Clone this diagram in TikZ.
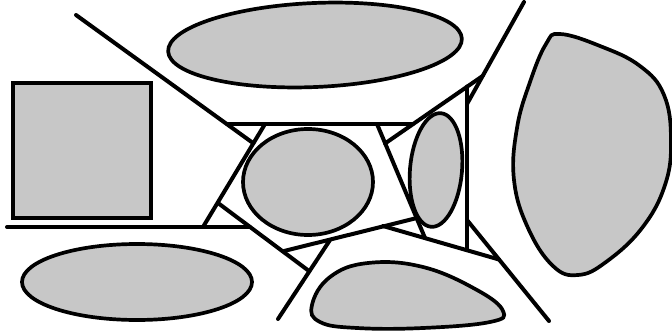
\documentclass[tikz,border=0pt]{standalone}
\begin{document}
\begin{tikzpicture}[x=1pt,y=-1pt,
  blob/.style={draw=black,line width=3.7pt,fill=black!22},
  edge/.style={draw=black,line width=4pt,line cap=round,line join=round}]
\useasboundingbox (0,0) rectangle (672,332);
% shapes
\draw[blob] (13,83) rectangle (151,218);
\draw[blob,rotate around={2.5:(315,45)}] (315,45) ellipse [x radius=147,y radius=42];
\draw[blob] (308,182) ellipse [x radius=65,y radius=53];
\draw[blob,rotate around={-5:(436,170)}] (436,170) ellipse [x radius=26,y radius=57];
\draw[blob] (137,282) ellipse [x radius=115,y radius=38];
\draw[blob] plot[smooth cycle,tension=0.7] coordinates {
  (560,34) (600,46) (640,66) (664,95) (671,140) (665,185) (642,228)
  (606,262) (578,275) (553,266) (528,228) (514,180) (517,128) (530,82) (546,44)};
\draw[blob] plot[smooth cycle,tension=0.7] coordinates {
  (312,305) (330,277) (368,263) (423,267) (477,290) (503,311) (490,322)
  (423,328) (357,328) (320,322)};
% connector points
\coordinate (A) at (76,15);
\coordinate (D) at (253.4,143.3);
\coordinate (P1) at (227,124);
\coordinate (P2) at (413,124);
\coordinate (L1) at (265,124);
\coordinate (L2) at (203,227);
\coordinate (H1) at (7,227);
\coordinate (H2) at (250,227);
\coordinate (F1) at (218,203);
\coordinate (F2) at (309,271);
\coordinate (S1) at (278,319);
\coordinate (S2) at (330,240);
\coordinate (B1) at (284,251);
\coordinate (B2) at (417,218);
\coordinate (R1) at (377,124);
\coordinate (R2) at (425,238);
\coordinate (M1) at (383,226);
\coordinate (M2) at (499,259.5);
\coordinate (V1) at (467,86.5);
\coordinate (V2) at (467,250);
\coordinate (T1) at (524,2);
\coordinate (T2) at (467,104);
\coordinate (G1) at (482.6,76);
\coordinate (G2) at (385,143.5);
\coordinate (K1) at (467,220);
\coordinate (K2) at (549,321);
% lines
\draw[edge] (A) -- (D);
\draw[edge] (P1) -- (P2);
\draw[edge] (L1) -- (L2);
\draw[edge] (H1) -- (H2);
\draw[edge] (F1) -- (F2);
\draw[edge] (S1) -- (S2);
\draw[edge] (B1) -- (B2);
\draw[edge] (R1) -- (R2);
\draw[edge] (M1) -- (M2);
\draw[edge] (V1) -- (V2);
\draw[edge] (T1) -- (T2);
\draw[edge] (G1) -- (G2);
\draw[edge] (K1) -- (K2);
\end{tikzpicture}
\end{document}
